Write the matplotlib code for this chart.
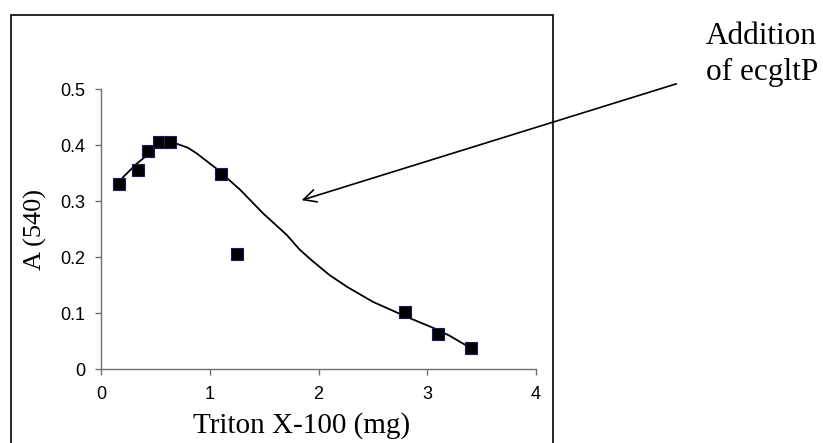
import matplotlib
matplotlib.use("Agg")
import matplotlib.pyplot as plt
from matplotlib.patches import Rectangle

# Measured points
triton_mg = [0.165, 0.337, 0.435, 0.533, 0.634, 1.103, 1.248, 2.795, 3.096, 3.40]
absorbance = [0.331, 0.355, 0.390, 0.406, 0.405, 0.349, 0.205, 0.101, 0.062, 0.037]

# Smooth trend line
curve_x = [0.165, 0.205, 0.33, 0.42, 0.50, 0.60, 0.70, 0.80, 0.88, 1.06, 1.28, 1.49,
           1.71, 1.83, 1.95, 2.10, 2.26, 2.50, 2.80, 3.06, 3.20, 3.35, 3.40]
curve_y = [0.331, 0.343, 0.367, 0.381, 0.396, 0.403, 0.402, 0.395, 0.385, 0.358,
           0.320, 0.278, 0.239, 0.2125, 0.192, 0.168, 0.147, 0.120, 0.094, 0.073,
           0.060, 0.043, 0.037]

x_ticks = [0, 1, 2, 3, 4]
y_ticks = [0, 0.1, 0.2, 0.3, 0.4, 0.5]
y_tick_labels = ["0", "0.1", "0.2", "0.3", "0.4", "0.5"]

W, H = 823, 443
fig = plt.figure(figsize=(W / 100, H / 100), dpi=100)
ax = fig.add_axes([101 / W, 1 - 369 / H, (536 - 101) / W, (369 - 89) / H])

ax.plot(curve_x, curve_y, color="black", lw=1.3, zorder=2)
ax.plot(triton_mg, absorbance, ls="none", marker="s", ms=8, mfc="black",
        mec="#1a1a60", mew=0.8, zorder=3)

ax.set_xlim(0, 4)
ax.set_ylim(0, 0.5)
ax.set_xticks(x_ticks)
ax.set_xticklabels([str(t) for t in x_ticks])
ax.set_yticks(y_ticks)
ax.set_yticklabels(y_tick_labels)

for s in ["top", "right"]:
    ax.spines[s].set_visible(False)
for s in ["left", "bottom"]:
    ax.spines[s].set_color("#707070")
    ax.spines[s].set_linewidth(1.0)

ax.tick_params(axis="y", direction="out", length=4.5, width=1, color="#707070",
               pad=7, labelsize=13, labelfontfamily="Liberation Sans")
ax.tick_params(axis="x", direction="out", length=4.5, width=1, color="#707070",
               pad=8, labelsize=13, labelfontfamily="Liberation Sans")

ax.set_xlabel("Triton X-100 (mg)", family="Liberation Serif", fontsize=21)
ax.xaxis.set_label_coords(0.46, -0.155)
ax.set_ylabel("A (540)", family="Liberation Serif", fontsize=19)
ax.yaxis.set_label_coords(-0.125, 0.5)

# Outer frame
fig.patches.append(Rectangle((11 / W, -0.05), (553 - 11) / W, 1.05 - 15 / H,
                             transform=fig.transFigure, fill=False,
                             edgecolor="black", lw=1.2))

# Annotation
fig.text(706 / W, 1 - 22 / H, "Addition\nof ecgltP", family="Liberation Serif",
         fontsize=22.5, va="top", ha="left", linespacing=1.3)
ax.annotate("", xy=(299, H - 201), xycoords="figure pixels",
            xytext=(679, H - 83), textcoords="figure pixels",
            arrowprops=dict(arrowstyle="->,head_length=0.9,head_width=0.45",
                            color="black", lw=1.2))

fig.savefig("out.png", dpi=100)
